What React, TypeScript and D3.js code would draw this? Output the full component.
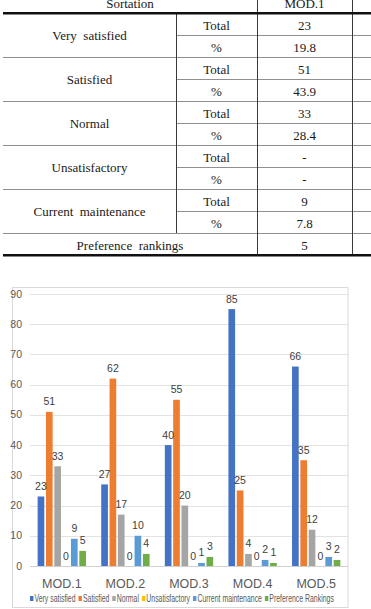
import React, { useEffect, useRef } from 'react';
import * as d3 from 'd3';

// table (MOD.1 column only, the rest is cropped)
const groups = ['Very  satisfied', 'Satisfied', 'Normal', 'Unsatisfactory', 'Current  maintenance'];
const totals = ['23', '51', '33', '-', '9'];
const percents = ['19.8', '43.9', '28.4', '-', '7.8'];
const prefRank = '5';

// chart
const mods = ['MOD.1', 'MOD.2', 'MOD.3', 'MOD.4', 'MOD.5'];
const seriesNames = ['Very satisfied', 'Satisfied', 'Normal', 'Unsatisfactory', 'Current maintenance', 'Preference Rankings'];
const verySatisfied = [23, 27, 40, 85, 66];
const satisfied = [51, 62, 55, 25, 35];
const normal = [33, 17, 20, 4, 12];
const unsatisfactory = [0, 0, 0, 0, 0];
const currentMaint = [9, 10, 1, 2, 3];
const prefRankings = [5, 4, 3, 1, 2];
const colors = ['#4472C4', '#ED7D31', '#A5A5A5', '#FFC000', '#5B9BD5', '#70AD47'];
const yTicks = [0, 10, 20, 30, 40, 50, 60, 70, 80, 90];

const W = 371;
const H = 609;
const chartFont = '"Liberation Sans Narrow", "Liberation Sans", Arial, sans-serif';

const App = () => {
  const svgRef = useRef<SVGSVGElement>(null);

  useEffect(() => {
    const svg = d3.select(svgRef.current);
    svg.selectAll('*').remove();

    // ---------- table ----------
    const t = svg.append('g').attr('font-family', '"Liberation Serif", "Times New Roman", serif')
      .attr('font-size', 13).attr('fill', '#1a1a1a');
    const colX = [3, 176, 257, 352];
    const top = 13;
    const rowH = 22;
    const hline = (y, x1, x2, w = 1, c = '#8f8f8f') =>
      t.append('line').attr('x1', x1).attr('x2', x2).attr('y1', y).attr('y2', y)
        .attr('stroke', c).attr('stroke-width', w);
    const vline = (x, y1, y2) =>
      t.append('line').attr('x1', x).attr('x2', x).attr('y1', y1).attr('y2', y2)
        .attr('stroke', '#3a3a3a').attr('stroke-width', 1);
    const txt = (s, x, y) =>
      t.append('text').attr('x', x).attr('y', y).attr('text-anchor', 'middle')
        .attr('xml:space', 'preserve').style('white-space', 'pre').text(s);

    // header row is cropped at the top in the source
    txt('Sortation', (colX[0] + colX[2]) / 2, 8);
    txt('MOD.1', (colX[2] + colX[3]) / 2, 8);

    groups.forEach((g, i) => {
      const y0 = top + i * 2 * rowH;
      if (i > 0) hline(y0 + 0.5, colX[0], W);
      hline(y0 + rowH + 0.5, colX[1], W);
      txt(g, (colX[0] + colX[1]) / 2, y0 + rowH + 4.5);
      txt('Total', (colX[1] + colX[2]) / 2, y0 + 16.5);
      txt('%', (colX[1] + colX[2]) / 2, y0 + rowH + 16.5);
      txt(totals[i], (colX[2] + colX[3]) / 2, y0 + 16.5);
      txt(percents[i], (colX[2] + colX[3]) / 2, y0 + rowH + 16.5);
    });
    const prefY = top + groups.length * 2 * rowH;
    hline(prefY + 0.5, colX[0], W);
    txt('Preference  rankings', (colX[0] + colX[2]) / 2, prefY + 16.5);
    txt(prefRank, (colX[2] + colX[3]) / 2, prefY + 16.5);

    vline(colX[1] + 0.5, top, prefY);
    vline(colX[2] + 0.5, 0, prefY + rowH);
    vline(colX[3] + 0.5, 0, prefY + rowH);
    hline(top + 0.3, colX[0], W, 2.6, '#111');
    hline(prefY + rowH + 0.3, colX[0], W, 2.6, '#111');

    // ---------- chart ----------
    const c = svg.append('g').attr('font-family', chartFont);
    c.append('rect').attr('x', 12.5).attr('y', 287.5).attr('width', 335.5).attr('height', 320)
      .attr('fill', '#fff').attr('stroke', '#d9d9d9');

    const y = d3.scaleLinear().domain([0, 90]).range([566, 294]);
    const x0 = d3.scaleBand().domain(mods).range([30, 348]);
    const x1 = d3.scaleBand().domain(seriesNames).range([6.8, 56.8]).paddingInner(0.2).paddingOuter(0.1);

    c.append('g').selectAll('line').data(yTicks).join('line')
      .attr('x1', 30).attr('x2', 348)
      .attr('y1', d => Math.round(y(d)) + 0.5).attr('y2', d => Math.round(y(d)) + 0.5)
      .attr('stroke', d => (d === 0 ? '#d0d0d0' : '#e3e3e3')).attr('stroke-width', 1);

    c.append('g').selectAll('text').data(yTicks).join('text')
      .attr('x', 22).attr('y', d => y(d) + 3.5).attr('text-anchor', 'end')
      .attr('font-size', 10.5).attr('fill', '#595959').text(d => d);

    const seriesValues = [verySatisfied, satisfied, normal, unsatisfactory, currentMaint, prefRankings];
    const rows = mods.flatMap((m, mi) =>
      seriesNames.map((s, si) => ({ m, s, si, v: seriesValues[si][mi] })));

    c.append('g').selectAll('rect').data(rows).join('rect')
      .attr('x', d => x0(d.m) + x1(d.s)).attr('width', x1.bandwidth())
      .attr('y', d => y(d.v)).attr('height', d => y(0) - y(d.v))
      .attr('fill', d => colors[d.si]);

    c.append('g').selectAll('text').data(rows).join('text')
      .attr('x', d => x0(d.m) + x1(d.s) + x1.bandwidth() / 2)
      .attr('y', d => y(d.v) - 6.5).attr('text-anchor', 'middle')
      .attr('font-size', 10.5).attr('fill', '#404040').text(d => d.v);

    c.append('g').selectAll('text').data(mods).join('text')
      .attr('x', d => x0(d) + x0.bandwidth() / 2).attr('y', 587.5).attr('text-anchor', 'middle')
      .attr('font-size', 12.5).attr('fill', '#595959').text(d => d);

    // legend, measured then squeezed to the source's width
    const lg = c.append('g').attr('font-size', 10).attr('fill', '#595959');
    let lx = 0;
    seriesNames.forEach((s, i) => {
      lg.append('rect').attr('x', lx).attr('y', -3).attr('width', 5).attr('height', 5).attr('fill', colors[i]);
      const tx = lg.append('text').attr('x', lx + 6.5).attr('y', 2.5).text(s);
      const w = (tx.node() as SVGTextElement).getComputedTextLength();
      lx += 6.5 + w + 4;
    });
    const total = lx - 4;
    const scale = 304 / total;
    lg.attr('transform', `translate(30,599) scale(${scale},1)`);
  }, []);

  return (
    <svg ref={svgRef} width={W} height={H}
      style={{ position: 'absolute', left: 0, top: 0, background: 'white' }} />
  );
};

export default App;
